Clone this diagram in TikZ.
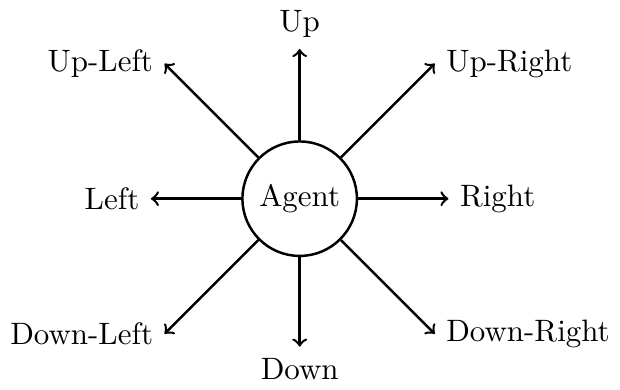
\documentclass[tikz,border=0pt]{standalone}
\begin{document}
\begin{tikzpicture}[>=to, thick]
    % Agente
    \node[circle, draw, minimum size=1.3cm] (agent) at (0,0) {Agent};

    % Puntos de llegada
    \coordinate (cu) at (0,1.7);
    \coordinate (cd) at (0,-1.68);
    \coordinate (cl) at (-1.69,0);
    \coordinate (cr) at (1.69,0);
    \coordinate (cul) at (135:2.17);
    \coordinate (cur) at (45:2.17);
    \coordinate (cdl) at (225:2.17);
    \coordinate (cdr) at (-45:2.17);

    % Acciones
    \node[above] (up) at (cu) {Up};
    \node[below] (down) at (cd) {Down};
    \node[left] (left) at (cl) {Left};
    \node[right] (right) at (cr) {Right};
    \node[left] (upleft) at (cul) {Up-Left};
    \node[right] (upright) at (cur) {Up-Right};
    \node[left] (downleft) at (cdl) {Down-Left};
    \node[right] (downright) at (cdr) {Down-Right};

    % Flechas
    \draw[->] (agent) -- (cu);
    \draw[->] (agent) -- (cd);
    \draw[->] (agent) -- (cl);
    \draw[->] (agent) -- (cr);
    \draw[->] (agent) -- (cul);
    \draw[->] (agent) -- (cur);
    \draw[->] (agent) -- (cdl);
    \draw[->] (agent) -- (cdr);
\end{tikzpicture}
\end{document}
